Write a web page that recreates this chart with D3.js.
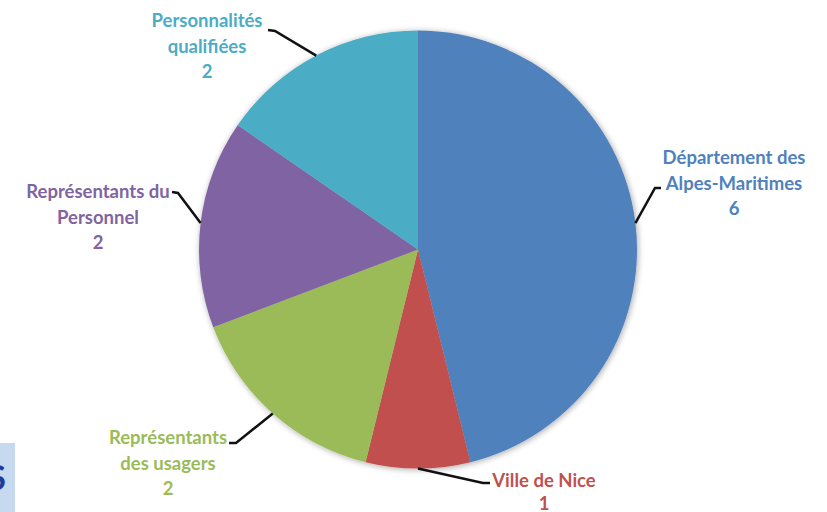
<!DOCTYPE html>
<html><head><meta charset="utf-8">
<script src="https://cdn.jsdelivr.net/npm/d3@7/dist/d3.min.js"></script>
<style>html,body{margin:0;padding:0;background:#fff;}svg{display:block;}</style>
</head><body>
<svg id="chart" width="827" height="512"></svg>
<script>
const categories = ["Département des Alpes-Maritimes", "Ville de Nice", "Représentants des usagers", "Représentants du Personnel", "Personnalités qualifiées"];
const values = [6, 1, 2, 2, 2];
const colors = ["#4F81BD", "#C0504D", "#9BBB59", "#8064A2", "#4BACC6"];
const labelLines = [
  ["Département des", "Alpes-Maritimes", "6"],
  ["Ville de Nice", "1"],
  ["Représentants", "des usagers", "2"],
  ["Représentants du", "Personnel", "2"],
  ["Personnalités", "qualifiées", "2"]
];

const svg = d3.select("#chart");
const cx = 418, cy = 249.5, R = 219;

// partial element at bottom-left edge
svg.append("rect").attr("x", 0).attr("y", 443).attr("width", 15).attr("height", 69).attr("fill", "#C6D9EE");
svg.append("text").attr("x", 6).attr("y", 490).attr("text-anchor", "end")
  .attr("font-family", "Lato, sans-serif").attr("font-weight", "bold")
  .attr("font-size", 34).attr("fill", "#1F3C9A").text("S");

const defs = svg.append("defs");
const f = defs.append("filter").attr("id", "sh").attr("x", "-20%").attr("y", "-20%").attr("width", "140%").attr("height", "140%");
f.append("feGaussianBlur").attr("in", "SourceAlpha").attr("stdDeviation", 3).attr("result", "b");
f.append("feOffset").attr("in", "b").attr("dx", 1).attr("dy", 1).attr("result", "o");
f.append("feComponentTransfer").attr("in", "o").attr("result", "o2")
  .append("feFuncA").attr("type", "linear").attr("slope", 0.35);
const m = f.append("feMerge");
m.append("feMergeNode").attr("in", "o2");
m.append("feMergeNode").attr("in", "SourceGraphic");

const pie = d3.pie().sort(null).value(d => d)(values);
const arc = d3.arc().innerRadius(0).outerRadius(R);

const g = svg.append("g").attr("transform", `translate(${cx},${cy})`);
g.append("g").attr("filter", "url(#sh)")
  .selectAll("path").data(pie).join("path")
  .attr("d", arc).attr("fill", (d, i) => colors[i]);

const layout = [
  {elbow: [655, 188], end: [661, 188], tx: 734, ty: 164, lh: 25.5},
  {elbow: [483, 483], end: [490, 483], tx: 544, ty: 487, lh: 22.5},
  {elbow: [236, 443], end: [229, 443], tx: 168, ty: 444, lh: 25.5},
  {elbow: [178, 193], end: [172, 192], tx: 98, ty: 198, lh: 25.5},
  {elbow: [275, 31], end: [268, 30], tx: 207, ty: 27, lh: 25.5}
];

pie.forEach((d, i) => {
  const a = (d.startAngle + d.endAngle) / 2;
  const px = cx + R * Math.sin(a), py = cy - R * Math.cos(a);
  const L = layout[i];
  svg.append("polyline")
    .attr("points", [[px, py], L.elbow, L.end].map(p => p.join(",")).join(" "))
    .attr("fill", "none").attr("stroke", "#111").attr("stroke-width", 2.5);
  const t = svg.append("text").attr("text-anchor", "middle")
    .attr("font-family", "Lato, 'Open Sans', sans-serif").attr("font-weight", "bold")
    .attr("font-size", 18.5).attr("fill", colors[i]);
  labelLines[i].forEach((s, k) => {
    t.append("tspan").attr("x", L.tx).attr("y", L.ty + k * L.lh).text(s);
  });
});
</script>
</body></html>
